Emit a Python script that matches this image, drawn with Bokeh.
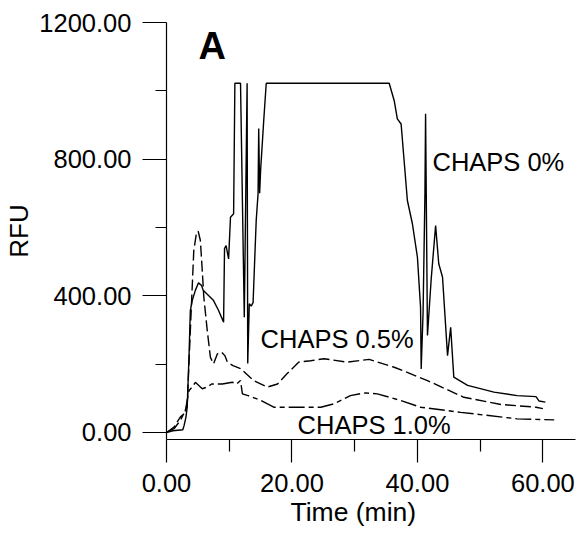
from bokeh.plotting import figure
from bokeh.models import FixedTicker, NumeralTickFormatter, Label, Range1d, Title
from bokeh.embed import file_html
from bokeh.resources import INLINE

# CHAPS 0 %
t0 = [0, 1.0, 2.6, 2.8, 3.1, 3.3, 3.6, 3.8, 4.1, 4.6, 5.1, 5.6, 5.85, 6.7, 7.5, 8.3, 9.1,
      9.25, 9.5, 9.9, 10.2, 10.7, 10.9, 11.8, 12.4, 12.85, 12.95, 13.2, 13.5, 13.8, 14.3,
      14.6, 14.7, 14.85, 15.0, 15.5, 15.9, 35.5, 36.3, 36.8, 37.4, 38.4, 39.2, 40.0, 40.5,
      40.6, 40.9, 41.2, 41.3, 41.6, 42.2, 42.9, 43.4, 44.0, 44.8, 45.3, 45.8, 48.0, 52.2,
      55.9, 58.9, 59.4, 60.4]
v0 = [0, 5, 8, 20, 45, 74, 230, 357, 386, 416, 438, 430, 416, 401, 386, 357, 323,
      538, 547, 508, 630, 640, 1022, 1022, 337, 1022, 202, 377, 370, 380, 620,
      700, 890, 700, 767, 913, 1022, 1022, 971, 918, 903, 679, 611, 513, 367,
      186, 350, 700, 933, 284, 450, 606, 494, 455, 225, 308, 162, 138, 118,
      108, 105, 92, 89]

# CHAPS 0.5 %
t05 = [0, 1.2, 2.2, 2.8, 3.3, 3.8, 4.35, 4.8, 5.05, 5.4, 5.7, 5.95, 6.5, 7.0, 7.5, 8.1,
       8.8, 9.3, 9.7, 10.6, 11.8, 13.9, 16.1, 17.7, 19.2, 21.1, 23.0, 25.1, 28.8, 32.3,
       36.3, 41.6, 47.4, 53.3, 58.9, 60.0]
v05 = [0, 16, 45, 55, 79, 298, 533, 586, 589, 562, 474, 396, 298, 220, 201, 230,
       235, 225, 206, 196, 187, 152, 133, 142, 172, 206, 210, 216, 206, 214,
       191, 152, 103, 82, 74, 70]

# CHAPS 1.0 %
t10 = [0, 1.2, 2.2, 3.0, 3.6, 4.1, 4.6, 5.7, 6.5, 7.2, 8.9, 10.5, 11.2, 11.8, 12.1, 13.0,
       15.0, 17.1, 21.4, 24.6, 26.7, 29.3, 31.7, 33.6, 37.3, 40.5, 46.9, 55.9, 61.8]
v10 = [0, 11, 35, 64, 123, 133, 147, 128, 133, 142, 142, 147, 142, 152, 113, 108,
       94, 74, 74, 74, 84, 108, 116, 113, 94, 74, 59, 40, 37]

x_ticks = [0, 20, 40, 60]
x_minor = [10, 30, 50]
y_ticks = [0, 400, 800, 1200]
y_minor = [200, 600, 1000]

FONT = "Liberation Sans"
FS = "25.5px"

p = figure(width=577, height=538, output_backend="svg", toolbar_location=None,
           x_range=Range1d(0, 65.2), y_range=Range1d(-20.5, 1200),
           min_border_left=166, min_border_right=2, min_border_top=22, min_border_bottom=99)
p.outline_line_color = None
p.xgrid.visible = False
p.ygrid.visible = False
p.background_fill_color = "white"

p.line(t0, v0, line_color="black", line_width=1.4)
p.line(t05, v05, line_color="black", line_width=1.4, line_dash="11 4")
p.line(t10, v10, line_color="black", line_width=1.4, line_dash="16 4 5 4")

for ax in (p.xaxis[0], p.yaxis[0]):
    ax.axis_line_color = "black"
    ax.axis_line_width = 1.2
    ax.major_tick_line_color = "black"
    ax.minor_tick_line_color = "black"
    ax.major_tick_line_width = 1.2
    ax.minor_tick_line_width = 1.2
    ax.major_tick_in = 0
    ax.minor_tick_in = 0
    ax.major_label_text_font = FONT
    ax.major_label_text_font_size = FS
    ax.major_label_text_color = "black"
    ax.axis_label_text_font = FONT
    ax.axis_label_text_font_size = "26px"
    ax.axis_label_text_font_style = "normal"
    ax.axis_label_text_color = "black"
    ax.formatter = NumeralTickFormatter(format="0.00")

p.xaxis[0].ticker = FixedTicker(ticks=x_ticks, minor_ticks=x_minor)
p.yaxis[0].ticker = FixedTicker(ticks=y_ticks, minor_ticks=y_minor)
p.xaxis[0].major_tick_out = 23
p.xaxis[0].minor_tick_out = 12
p.yaxis[0].major_tick_out = 24
p.yaxis[0].minor_tick_out = 11
p.xaxis[0].major_label_standoff = 11
p.yaxis[0].major_label_standoff = 11
p.yaxis[0].axis_label = "RFU"
p.yaxis[0].axis_label_standoff = 2

# x-axis title, centred under the 0-60 min span as in the original
p.add_layout(Title(text="Time (min)", align="left", offset=124, standoff=0,
                   text_font=FONT, text_font_size="26.5px", text_font_style="normal",
                   text_color="black"), "below")

labels = [
    (5.1, 1130, "A", "38px", "bold"),
    (42.4, 793, "CHAPS 0%", FS, "normal"),
    (15.0, 275, "CHAPS 0.5%", FS, "normal"),
    (20.9, 23, "CHAPS 1.0%", FS, "normal"),
]
for x, y, txt, size, style in labels:
    p.add_layout(Label(x=x, y=y, text=txt, text_font=FONT, text_font_size=size,
                       text_font_style=style, text_baseline="middle", text_align="left",
                       text_color="black"))

open("out.html", "w").write(file_html(p, INLINE))
